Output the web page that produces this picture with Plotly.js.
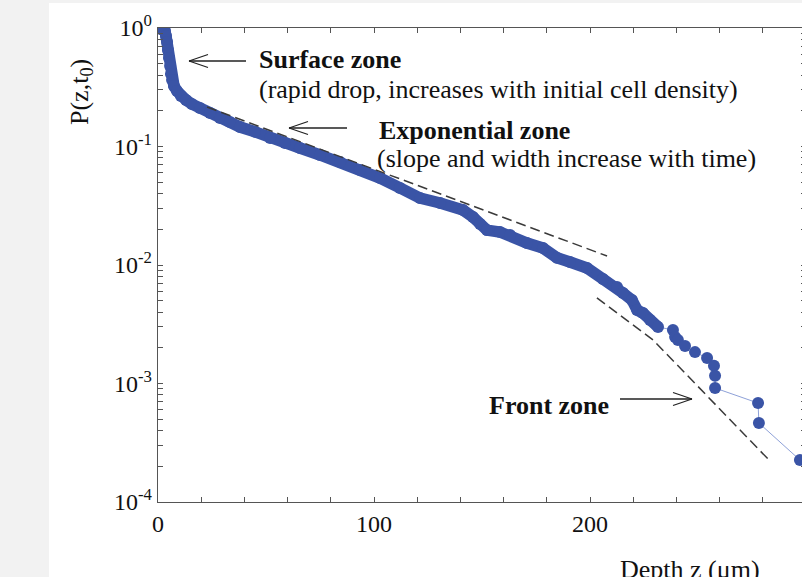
<!DOCTYPE html>
<html>
<head>
<meta charset="utf-8">
<script src="https://cdn.plot.ly/plotly-3.0.1.min.js"></script>
<style>
  html, body { margin: 0; padding: 0; background: #f2f2f2; overflow: hidden; width: 802px; height: 577px; }
  #chart { position: absolute; left: 49px; top: 3px; width: 763px; height: 574px; }
</style>
</head>
<body>
<div id="chart"></div>
<script>
// ---- data ----
const depth = [0, 1.9, 3.2, 3.7, 4.2, 4.6, 5.1, 5.6, 6.0, 6.5, 7.4, 8.8, 10.6, 13.0, 15.7, 19.4, 24.1, 28.7, 33.3, 38.0,
  44.9, 51.9, 58.8, 65.7, 75.0, 84.3, 93.5, 102.8, 112.0, 121.3, 130.6, 141.2, 145.8, 149.1, 152.3, 158.3, 163.0, 170.8,
  178.2, 184.7, 190.7, 198.6, 206.0, 212.5, 215.3, 219.4, 221.8, 224.5, 227.8, 231.5, 238.4, 239.4, 240.7, 244.0, 248.6,
  254.2, 257.4, 257.9, 257.9, 277.8, 278.2, 297.2];
const prob = [1.0, 0.98, 0.943, 0.856, 0.762, 0.652, 0.558, 0.478, 0.409, 0.364, 0.324, 0.294, 0.267, 0.247, 0.228, 0.211,
  0.192, 0.174, 0.161, 0.146, 0.133, 0.118, 0.107, 0.0971, 0.0848, 0.0740, 0.0633, 0.0542, 0.0447, 0.0367, 0.0334, 0.0291,
  0.0254, 0.0222, 0.0197, 0.0190, 0.0179, 0.0153, 0.0139, 0.0115, 0.0106, 0.00944, 0.00762, 0.00652, 0.00580, 0.00507,
  0.00417, 0.00393, 0.00343, 0.00300, 0.00283, 0.00247, 0.00233, 0.00207, 0.00184, 0.00164, 0.00141, 0.00116, 0.000916,
  0.000684, 0.000464, 0.000226];
const denseCount = 50; // points that overlap into a continuous band

const expFitZ = [22.7, 207.9];
const expFitP = [0.2155, 0.0119];
const frontFitZ = [203.2, 229.2, 283.3];
const frontFitP = [0.00527, 0.00233, 0.000222];

const xTickVals = [0, 20, 40, 60, 80, 100, 120, 140, 160, 180, 200, 220, 240, 260, 280, 300];
const xTickText = ['0', '', '', '', '', '100', '', '', '', '', '200', '', '', '', '', '300'];
const yDecades = [1e-4, 1e-3, 1e-2, 1e-1, 1];
const yDecadeText = ['10<sup>-4</sup>', '10<sup>-3</sup>', '10<sup>-2</sup>', '10<sup>-1</sup>', '10<sup>0</sup>'];

// ---- build log ticks (decades labelled, minor unlabelled) ----
const yTickVals = [], yTickText = [];
yDecades.forEach((d, i) => {
  yTickVals.push(d); yTickText.push(yDecadeText[i]);
  if (d < 1) for (let m = 2; m <= 9; m++) { yTickVals.push(d * m); yTickText.push(''); }
});

// ---- geometry helpers for annotations (page px -> paper) ----
const PL = 158, PR = 806, PT = 28, PB = 502;
const px = x => (x - PL) / (PR - PL);
const py = y => (PB - y) / (PB - PT);

const shapes = [];
function arrow(x0, y0, x1, y1) {
  const st = {color: '#222', width: 1.3};
  shapes.push({type: 'line', xref: 'paper', yref: 'paper', x0: px(x0), y0: py(y0), x1: px(x1), y1: py(y1), line: st});
  const dir = x1 > x0 ? -1 : 1;
  shapes.push({type: 'line', xref: 'paper', yref: 'paper', x0: px(x1), y0: py(y1), x1: px(x1 + dir * 19), y1: py(y1 - 6.5), line: st});
  shapes.push({type: 'line', xref: 'paper', yref: 'paper', x0: px(x1), y0: py(y1), x1: px(x1 + dir * 19), y1: py(y1 + 6.5), line: st});
}
arrow(246, 61, 189, 61);
arrow(347, 128, 289, 128);
arrow(620, 399, 692, 399);

const F = 'Liberation Serif, Times New Roman, serif';
const ann = (x, y, text, opts) => Object.assign({xref: 'paper', yref: 'paper', x: px(x), y: py(y), text: text,
  showarrow: false, xanchor: 'left', yanchor: 'middle', font: {family: F, size: 26, color: '#111'}}, opts || {});

const annotations = [
  ann(257, 60, '<b>Surface zone</b>'),
  ann(257, 90, '(rapid drop, increases with initial cell density)'),
  ann(377, 130, '<b>Exponential zone</b>'),
  ann(375, 159, '(slope and width increase with time)'),
  ann(487, 405, '<b>Front zone</b>'),
  ann(690, 569, 'Depth z (μm)', {xanchor: 'center'}),
  ann(81, 92, 'P(z,t<sub>0</sub>)', {xanchor: 'center', textangle: -90})
];

const blue = '#3a54a6';
const traces = [
  {x: depth, y: prob, mode: 'lines', line: {color: '#8ea1d8', width: 1}, hoverinfo: 'skip'},
  {x: depth.slice(0, denseCount), y: prob.slice(0, denseCount), mode: 'lines', line: {color: blue, width: 11.5}},
  {x: depth, y: prob, mode: 'markers', marker: {color: blue, size: 12}},
  {x: expFitZ, y: expFitP, mode: 'lines', line: {color: '#3a3a3a', width: 1.5, dash: '10px,5px'}},
  {x: frontFitZ, y: frontFitP, mode: 'lines', line: {color: '#3a3a3a', width: 1.5, dash: '10px,5px'}}
];

const axisCommon = {
  showgrid: false, zeroline: false, showline: true, linecolor: '#555', linewidth: 1.3,
  ticks: 'inside', ticklen: 5, tickwidth: 1, tickcolor: '#555', mirror: 'ticks',
  tickfont: {family: F, size: 24, color: '#111'}, tickmode: 'array'
};

const layout = {
  width: 763, height: 574,
  margin: {l: PL - 49, r: 812 - PR, t: PT - 3, b: 577 - PB},
  paper_bgcolor: '#ffffff', plot_bgcolor: '#ffffff',
  showlegend: false,
  xaxis: Object.assign({}, axisCommon, {range: [0, 300], tickvals: xTickVals, ticktext: xTickText}),
  yaxis: Object.assign({}, axisCommon, {type: 'log', range: [-4, 0], tickvals: yTickVals, ticktext: yTickText}),
  shapes: shapes,
  annotations: annotations
};

Plotly.newPlot('chart', traces, layout, {displayModeBar: false, staticPlot: true});
</script>
</body>
</html>
